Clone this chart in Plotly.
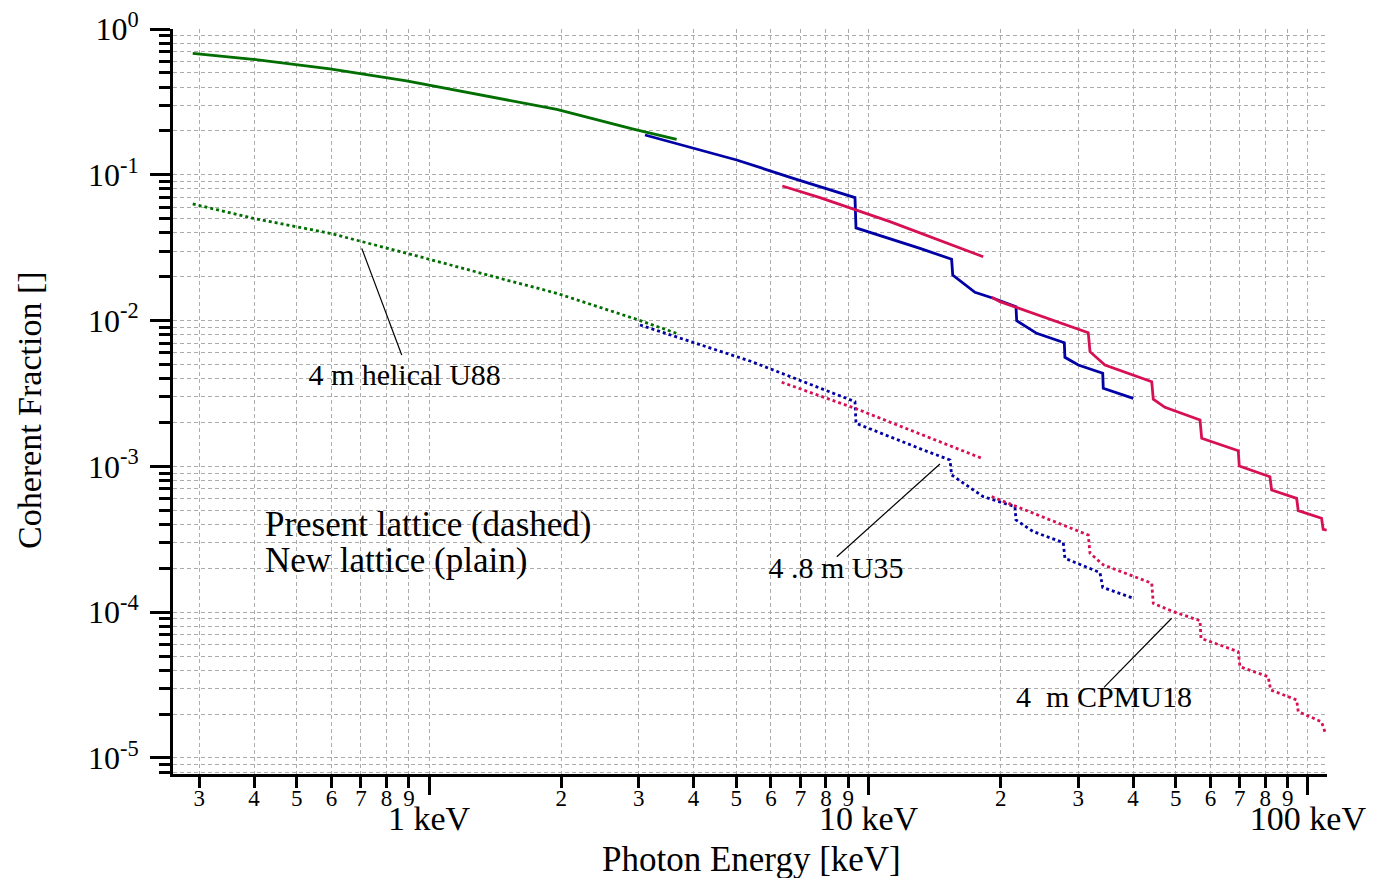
import numpy as np
import plotly.graph_objects as go

# ---------------- data ----------------
# 4 m helical U88
u88_new_E = [0.290, 0.398, 0.595, 0.889, 1.953, 2.917, 3.66]
u88_new_F = [0.681, 0.620, 0.532, 0.440, 0.281, 0.206, 0.175]
u88_old_E = [0.290, 0.398, 0.595, 0.889, 1.45, 1.953, 2.917, 3.66]
u88_old_F = [0.0631, 0.0503, 0.0397, 0.0290, 0.0195, 0.01539, 0.01037, 0.00818]

# 4.8 m U35
u35_new_E = [3.101, 5.013, 6.744, 9.318, 9.367, 13.10, 15.46, 15.55, 17.47, 19.23, 21.66, 21.74,
             24.14, 27.90, 27.99, 30.02, 34.12, 34.22, 40.05]
u35_new_F = [0.1875, 0.1263, 0.0946, 0.0697, 0.0432, 0.0313, 0.02633, 0.02055, 0.01564, 0.01422,
             0.01246, 0.00998, 0.00818, 0.00705, 0.0056, 0.00496, 0.00435, 0.00343, 0.00293]
u35_old_E = [3.021, 5.375, 9.318, 9.367, 13.33, 15.33, 15.46, 18.24, 21.54, 21.66, 23.71, 27.75,
             27.99, 30.81, 33.63, 34.12, 40.05]
u35_old_F = [0.00933, 0.00528, 0.002779, 0.001975, 0.001296, 0.001106, 0.000873, 0.00062, 0.000529,
             0.000429, 0.000357, 0.0003, 0.000234, 0.000207, 0.000187, 0.000148, 0.0001245]

# 4 m CPMU18 (two segments each)
cpmu_new1_E = [6.367, 7.755, 11.19, 18.24]
cpmu_new1_F = [0.0838, 0.0697, 0.0477, 0.02743]
cpmu_new2_E = [19.07, 19.92, 31.63, 31.92, 34.52, 44.11, 44.47, 47.27, 56.81, 57.31, 69.41, 69.78,
               81.93, 82.67, 94.26, 95.04, 107.4, 108.3, 110.3]
cpmu_new2_F = [0.01444, 0.01348, 0.00826, 0.00612, 0.00496, 0.00381, 0.002886, 0.002542, 0.00208,
               0.001558, 0.001281, 0.001006, 0.000850, 0.000689, 0.000604, 0.000497, 0.000441,
               0.000370, 0.000366]
cpmu_old1_E = [6.346, 9.318, 18.09]
cpmu_old1_F = [0.003774, 0.002503, 0.001137]
cpmu_old2_E = [19.07, 21.74, 31.63, 31.92, 34.22, 44.11, 44.47, 49.38, 56.81, 57.1, 69.41, 70.03,
               81.2, 82.24, 94.26, 95.04, 107.4, 109.3]
cpmu_old2_F = [0.00062, 0.000529, 0.000338, 0.000254, 0.000211, 0.000158, 0.000115, 0.0001008,
               8.74e-5, 6.62e-5, 5.36e-5, 4.23e-5, 3.61e-5, 2.93e-5, 2.50e-5, 2.08e-5, 1.77e-5, 1.51e-5]

# leader lines and their labels
u88_lead_E = [0.703, 0.867]
u88_lead_F = [0.0313, 0.00581]
u35_lead_E = [14.54, 8.47]
u35_lead_F = [0.001039, 0.00024]
cpmu_lead_E = [48.97, 34.35]
cpmu_lead_F = [9.08e-5, 3.05e-5]
label_text = ["4 m helical U88", "4 .8 m U35", "4\u00a0 m CPMU18"]
label_E = [0.880, 8.43, 34.35]
label_F = [0.0041, 0.0001917, 2.5e-5]

note_text = ["Present lattice (dashed)", "New lattice (plain)"]
note_E = [0.4233, 0.4233]
note_F = [3.84e-4, 2.18e-4]

x_decades = [1, 10, 100]
x_decade_labels = ["1 keV", "10 keV", "100 keV"]
y_decades = [1e0, 1e-1, 1e-2, 1e-3, 1e-4, 1e-5]
y_decade_labels = ["10<sup>0</sup>", "10<sup>-1</sup>", "10<sup>-2</sup>", "10<sup>-3</sup>",
                   "10<sup>-4</sup>", "10<sup>-5</sup>"]

# ---------------- styling ----------------
GREEN = "rgb(0,110,0)"
BLUE = "rgb(0,0,165)"
RED = "rgb(215,15,85)"
FONT = "Liberation Serif, Times New Roman, serif"
SOLID_W = 2.8
DOT_W = 2.8
DOT = "3px,3px"

fig = go.Figure()

def add_line(E, F, color, dotted):
    fig.add_trace(go.Scatter(
        x=E, y=F, mode="lines",
        line=dict(color=color, width=DOT_W if dotted else SOLID_W,
                  dash=DOT if dotted else "solid"),
        showlegend=False, hoverinfo="skip"))

add_line(u88_old_E, u88_old_F, GREEN, True)
add_line(u35_old_E, u35_old_F, BLUE, True)
add_line(cpmu_old1_E, cpmu_old1_F, RED, True)
add_line(cpmu_old2_E, cpmu_old2_F, RED, True)
add_line(u88_new_E, u88_new_F, GREEN, False)
add_line(u35_new_E, u35_new_F, BLUE, False)
add_line(cpmu_new1_E, cpmu_new1_F, RED, False)
add_line(cpmu_new2_E, cpmu_new2_F, RED, False)

for E, F in [(u88_lead_E, u88_lead_F), (u35_lead_E, u35_lead_F), (cpmu_lead_E, cpmu_lead_F)]:
    fig.add_trace(go.Scatter(x=E, y=F, mode="lines", line=dict(color="black", width=1.2),
                             showlegend=False, hoverinfo="skip"))

fig.add_trace(go.Scatter(x=label_E, y=label_F, mode="text", text=label_text,
                         textposition="middle center",
                         textfont=dict(family=FONT, size=30, color="black"),
                         showlegend=False, hoverinfo="skip"))
# the notes are drawn on the overlaying decade axis (same range) so that axis is rendered
fig.add_trace(go.Scatter(x=note_E, y=note_F, mode="text", text=note_text, xaxis="x2",
                         textposition="middle right",
                         textfont=dict(family=FONT, size=35, color="black"),
                         showlegend=False, hoverinfo="skip"))

# tick positions
x_min, x_max = 0.2615, 110.5
x_range = [np.log10(x_min), np.log10(x_max)]
x_minor_vals, x_minor_text = [], []
for d in [0.1, 1, 10, 100]:
    for k in range(2, 10):
        v = k * d
        if x_min <= v <= x_max:
            x_minor_vals.append(v)
            x_minor_text.append(str(k))
y_minor_vals = [k * 10.0 ** p for p in range(-6, 0) for k in range(2, 10) if k * 10.0 ** p >= 10 ** -5.11]

GRID = dict(showgrid=True, gridcolor="#acacac", gridwidth=1, griddash="4px,3px")

fig.update_layout(
    xaxis=dict(
        type="log", range=x_range, automargin=False,
        tickmode="array", tickvals=x_minor_vals, ticktext=x_minor_text,
        ticks="outside", ticklen=11, tickwidth=2.5, tickcolor="black",
        tickfont=dict(family=FONT, size=23, color="black"), ticklabelstandoff=-10,
        showline=True, linecolor="black", linewidth=2.8, mirror=False, zeroline=False,
        minor=dict(tickmode="array", tickvals=x_decades, ticks="", **GRID),
        **GRID),
    xaxis2=dict(
        type="log", range=x_range, overlaying="x", anchor="y", side="bottom", automargin=False,
        tickmode="array", tickvals=x_decades, ticktext=x_decade_labels,
        ticks="outside", ticklen=20, tickwidth=2.5, tickcolor="black",
        tickfont=dict(family=FONT, size=34, color="black"), ticklabelstandoff=-6,
        showline=False, showgrid=False, zeroline=False),
    yaxis=dict(
        type="log", range=[-5.11, 0.0], automargin=False,
        tickmode="array", tickvals=y_decades, ticktext=y_decade_labels,
        ticks="outside", ticklen=20, tickwidth=2.5, tickcolor="black",
        tickfont=dict(family=FONT, size=32, color="black"), ticklabelstandoff=5,
        showline=True, linecolor="black", linewidth=2.8, mirror=False, zeroline=False,
        minor=dict(tickmode="array", tickvals=y_minor_vals, ticks="outside", ticklen=11,
                   tickwidth=2.5, tickcolor="black", **GRID),
        **GRID),
)

annotations = [
    dict(x=0.501, xref="paper", y=-0.1154, yref="paper", text="Photon Energy [keV]",
         showarrow=False, xanchor="center", yanchor="middle",
         font=dict(family=FONT, size=35, color="black")),
    dict(x=-0.1239, xref="paper", y=0.4886, yref="paper", text="Coherent Fraction []",
         showarrow=False, xanchor="center", yanchor="middle", textangle=-90,
         font=dict(family=FONT, size=34, color="black")),
]

fig.update_layout(
    width=1373, height=878,
    margin=dict(l=173, r=46, t=29, b=104, autoexpand=False),
    paper_bgcolor="white", plot_bgcolor="white",
    showlegend=False, hovermode=False,
    annotations=annotations,
    font=dict(family=FONT, color="black"),
)

fig.write_html("out.html")
